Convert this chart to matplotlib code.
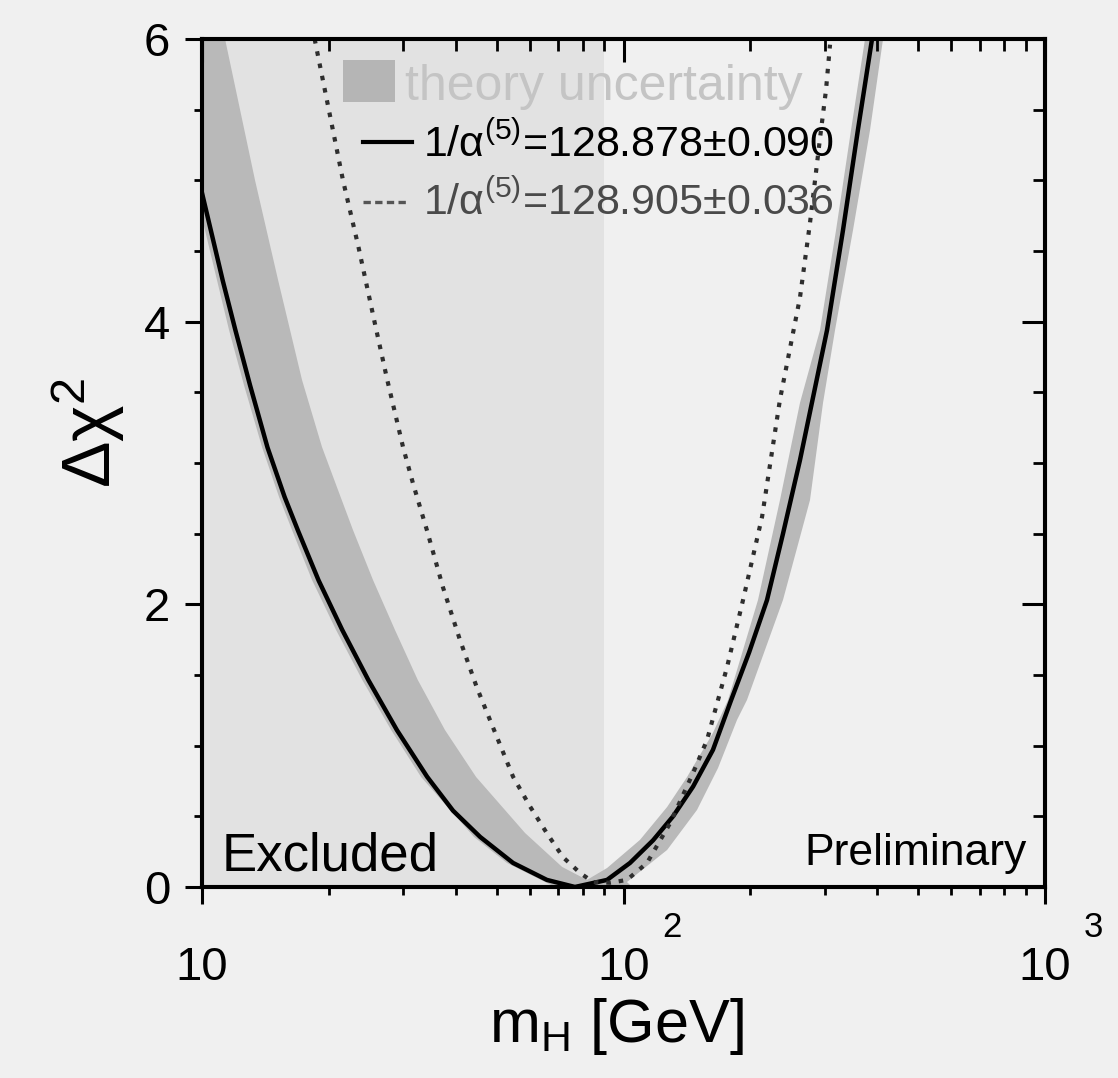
import matplotlib.pyplot as plt
from matplotlib.patches import Rectangle
from matplotlib.lines import Line2D
from matplotlib.ticker import LogLocator, MultipleLocator, NullFormatter

plt.rcParams['font.family'] = ['Liberation Sans', 'DejaVu Sans']
plt.rcParams['mathtext.fontset'] = 'custom'
plt.rcParams['mathtext.rm'] = 'Liberation Sans'
plt.rcParams['mathtext.it'] = 'Liberation Sans:italic'

# data: m_H [GeV] vs delta chi^2
solid_mh = [10.0, 11.2, 12.0, 13.0, 14.3, 15.7, 16.9, 18.9, 21.5, 24.8, 29.0, 34.2,
            39.4, 45.7, 54.7, 65.8, 76.7, 91.4, 103.6, 117.5, 131.1, 146.2, 163.0,
            179.9, 198.6, 219.0, 239.0, 262.2, 304.0, 331.8, 360.0, 388.7]
solid_dchi2 = [4.91, 4.29, 3.94, 3.55, 3.11, 2.76, 2.52, 2.17, 1.82, 1.465, 1.11, 0.78,
               0.54, 0.354, 0.17, 0.05, 0.0, 0.05, 0.17, 0.33, 0.5, 0.71, 0.97,
               1.32, 1.66, 2.03, 2.5, 3.02, 3.94, 4.65, 5.36, 6.0]

dotted_mh = [18.5, 21.6, 23.5, 25.7, 27.5, 30.0, 31.7, 34.2, 37.3, 40.9, 44.9, 49.0,
             54.7, 60.0, 65.8, 71.9, 78.9, 84.7, 92.9, 101.9, 113.7, 128.9, 146.2,
             157.8, 176.1, 192.1, 213.2, 235.1, 262.2, 277.0, 284.7, 292.6, 302.3, 309.0]
dotted_dchi2 = [6.0, 5.0, 4.53, 3.99, 3.59, 3.11, 2.85, 2.52, 2.12, 1.75, 1.41, 1.13,
                0.78, 0.57, 0.38, 0.21, 0.099, 0.035, 0.03, 0.05, 0.17, 0.45, 0.806,
                1.04, 1.557, 2.03, 2.62, 3.45, 4.17, 4.70, 5.0, 5.3, 5.64, 5.96]

# outline of the theory uncertainty band
band_mh = [9.4, 11.34, 13.36, 15.15, 17.27, 19.26, 21.02, 22.81, 25.45, 28.7, 32.5, 37.7,
           44.7, 58.4, 71.5, 81.9, 91.4, 109.4, 126.9, 141.5, 163.0, 177.0, 208.5,
           235.1, 262.2, 292.6, 319.4, 346.6, 374.1, 412.8, 384.5, 350.4, 317.6,
           297.4, 277.0, 239.0, 196.3, 185.9, 167.6, 149.4, 126.9, 101.9, 104.8,
           68.8, 63.7, 52.9, 44.2, 33.1, 28.1, 24.0, 20.8, 18.24, 16.35, 15.23,
           13.88, 12.58, 11.59, 10.85, 9.68]
band_dchi2 = [6.0, 6.0, 5.0, 4.295, 3.587, 3.113, 2.809, 2.526, 2.172, 1.818, 1.465, 1.111,
              0.778, 0.382, 0.142, 0.05, 0.134, 0.333, 0.566, 0.778, 1.09, 1.323, 2.031,
              2.738, 3.425, 3.941, 4.649, 5.356, 6.0, 6.0, 5.356, 4.649, 3.941,
              3.425, 2.738, 2.031, 1.323, 1.182, 0.842, 0.545, 0.262, 0.035, 0.0,
              0.0, 0.05, 0.17, 0.354, 0.778, 1.111, 1.465, 1.818, 2.172, 2.526, 2.76,
              3.113, 3.55, 3.941, 4.295, 4.91]

excluded_limit = 90.0

x_ticks = [10, 100, 1000]
x_tick_base = ['10', '10', '10']
x_tick_exp = ['', '2', '3']
y_ticks = [0, 2, 4, 6]

bg = '#f0f0f0'
excl_col = '#e2e2e2'
band_col = '#b9b9b9'

fig = plt.figure(figsize=(11.18, 10.78), dpi=100, facecolor=bg)
ax = fig.add_axes([0.1807, 0.1772, 0.754, 0.7866])
ax.set_facecolor(bg)
ax.set_xscale('log')
ax.set_xlim(10, 1000)
ax.set_ylim(0, 6)

ax.axvspan(10, excluded_limit, color=excl_col, lw=0, zorder=0)
ax.fill(band_mh, band_dchi2, color=band_col, lw=0, zorder=1)
ax.plot(solid_mh, solid_dchi2, color='black', lw=3.2, zorder=3, solid_joinstyle='round')
ax.plot(dotted_mh, dotted_dchi2, color='#2e2e2e', lw=3.0, ls=(0, (1.1, 1.9)),
        dash_capstyle='butt', zorder=4)

# ticks: outward on bottom/left
ax.xaxis.set_major_locator(LogLocator(base=10, numticks=10))
ax.xaxis.set_minor_locator(LogLocator(base=10, subs=range(2, 10), numticks=30))
ax.xaxis.set_major_formatter(NullFormatter())
ax.xaxis.set_minor_formatter(NullFormatter())
ax.set_yticks(y_ticks)
ax.yaxis.set_minor_locator(MultipleLocator(0.5))
ax.tick_params(which='major', direction='out', length=12, width=2.2, labelsize=34, pad=11)
ax.tick_params(which='minor', direction='out', length=6, width=2.0)
ax.tick_params(axis='x', labelbottom=False)

# inward ticks on top/right
axt = ax.twiny()
axt.set_xscale('log')
axt.set_xlim(10, 1000)
axt.xaxis.set_major_locator(LogLocator(base=10, numticks=10))
axt.xaxis.set_minor_locator(LogLocator(base=10, subs=range(2, 10), numticks=30))
axt.xaxis.set_major_formatter(NullFormatter())
axt.xaxis.set_minor_formatter(NullFormatter())
axt.tick_params(which='major', direction='in', length=16.5, width=2.2)
axt.tick_params(which='minor', direction='in', length=8.5, width=2.0)

axr = ax.twinx()
axr.set_ylim(0, 6)
axr.set_yticks(y_ticks)
axr.yaxis.set_minor_locator(MultipleLocator(0.5))
axr.tick_params(which='major', direction='in', length=16.5, width=2.2, labelright=False)
axr.tick_params(which='minor', direction='in', length=8.5, width=2.0)

for a in (ax, axt, axr):
    for s in a.spines.values():
        s.set_linewidth(2.9)

# x tick labels, PAW style
for t, b, e in zip(x_ticks, x_tick_base, x_tick_exp):
    ax.annotate(b, xy=(t, 0), xycoords=('data', 'axes fraction'), xytext=(0, -93),
                textcoords='offset pixels', ha='center', va='baseline', fontsize=34)
    if e:
        ax.annotate(e, xy=(t, 0), xycoords=('data', 'axes fraction'), xytext=(39, -50),
                    textcoords='offset pixels', ha='left', va='baseline', fontsize=25)

ax.text(0.492, -0.183, 'm$_\\mathrm{H}$ [GeV]', transform=ax.transAxes, fontsize=44,
        ha='center', va='baseline')
ax.text(-0.135, 0.535, 'Δχ$^2$', transform=ax.transAxes, fontsize=50, rotation=90,
        ha='center', va='center')

ax.text(0.0237, 0.02, 'Excluded', transform=ax.transAxes, fontsize=38, va='baseline', zorder=6)
ax.text(0.9786, 0.026, 'Preliminary', transform=ax.transAxes, fontsize=32,
        ha='right', va='baseline', zorder=6)

# legend
ax.add_patch(Rectangle((0.1673, 0.9257), 0.0617, 0.0495, transform=ax.transAxes,
                       color='#b5b5b5', lw=0, zorder=5))
ax.text(0.2408, 0.928, 'theory uncertainty', transform=ax.transAxes, fontsize=36,
        color='#c4c4c4', va='baseline', zorder=6)
ax.add_line(Line2D([0.191, 0.249], [0.8785, 0.8785], transform=ax.transAxes,
                   color='black', lw=3, zorder=6))
ax.text(0.2622, 0.8608, '1/α$^{(5)}$=128.878±0.090', transform=ax.transAxes,
        fontsize=31, va='baseline', zorder=6)
ax.add_line(Line2D([0.191, 0.246], [0.8078, 0.8078], transform=ax.transAxes,
                   color='#555555', lw=2.4, ls=(0, (2.2, 1.3)), zorder=6))
ax.text(0.2622, 0.7925, '1/α$^{(5)}$=128.905±0.036', transform=ax.transAxes,
        fontsize=31, color='#4a4a4a', va='baseline', zorder=6)

plt.savefig('out.png', dpi=100, facecolor=bg)
